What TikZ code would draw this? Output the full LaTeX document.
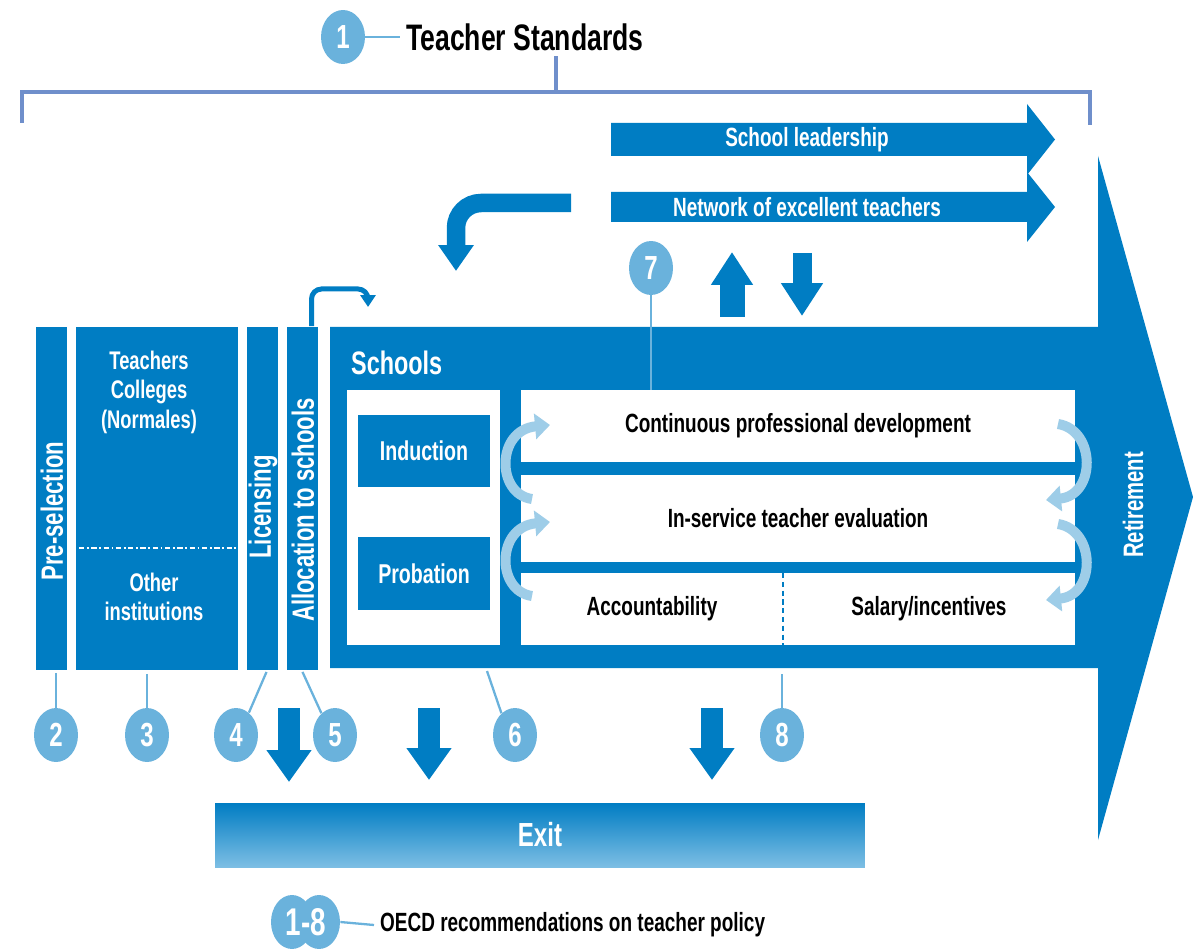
\documentclass[tikz,border=0pt]{standalone}
\usepackage{fontspec}
\setmainfont{Liberation Sans}[FakeStretch=0.72]
\usetikzlibrary{arrows.meta,shapes.geometric}

\definecolor{oecdblue}{RGB}{0,125,195}
\definecolor{badgeblue}{RGB}{106,178,220}
\definecolor{bracketblue}{RGB}{111,143,203}
\definecolor{arcblue}{RGB}{158,205,232}
\definecolor{exitlight}{RGB}{125,190,228}

\tikzset{
  badge/.style={ellipse, fill=badgeblue, text=white, minimum width=0.88cm, minimum height=1.08cm, inner sep=0pt, font=\fontsize{19}{19}\selectfont\bfseries},
  col/.style={fill=oecdblue, text=white, inner sep=0pt, outer sep=0pt, font=\fontsize{15}{18}\selectfont\bfseries},
  coltext/.style={rotate=90, text=white, font=\fontsize{17.5}{20}\selectfont\bfseries},
  row/.style={fill=white, text=black, inner sep=0pt, outer sep=0pt, font=\fontsize{15}{18}\selectfont\bfseries},
  pin/.style={draw=badgeblue, line width=1.3pt},
  fatarrow/.style={draw=oecdblue, line width=0.44cm, -{Triangle[width=0.86cm,length=0.64cm]}},
  cycle arrow/.style={draw=arcblue, line width=0.2cm, -{Triangle[width=0.5cm,length=0.3cm]}},
  arrowtext/.style={text=white, font=\fontsize{15}{18}\selectfont\bfseries}
}

\begin{document}
\begin{tikzpicture}[x=0.02cm, y=-0.02cm]
\useasboundingbox (0,0) rectangle (1193,949);

\node[badge] (b1) at (343,37) {1};
\node[anchor=west, font=\fontsize{21}{25}\selectfont\bfseries] (std) at (400,37) {Teacher Standards};
\draw[pin] (b1.east) -- (std.west);
\coordinate (stdfoot) at (556,56);
\draw[bracketblue, line width=2.8pt] (22,123) -- (22,92) -- (1090,92) -- (1090,125);
\draw[bracketblue, line width=2.8pt] (556,92) -- (stdfoot);

\fill[oecdblue] (611,123) -- (1027,123) -- (1027,104) -- (1055,139.5) -- (1027,175) -- (1027,156) -- (611,156) -- cycle;
\node[arrowtext] (lead) at (807,140) {School leadership};
\fill[oecdblue] (611,192) -- (1027,192) -- (1027,172) -- (1055,207) -- (1027,242) -- (1027,222) -- (611,222) -- cycle;
\node[arrowtext] (net) at (807,207) {Network of excellent teachers};

\draw[oecdblue, line width=0.37cm, rounded corners=0.5cm, -{Triangle[width=0.68cm,length=0.52cm]}] (571,203) -| (456,271);

\draw[fatarrow, -{Triangle[width=0.8cm,length=0.66cm]}, line width=0.5cm] (732,317) -- (732,252);
\draw[fatarrow, -{Triangle[width=0.8cm,length=0.66cm]}, line width=0.38cm] (802,253) -- (802,316);

\fill[oecdblue] (330,327) -- (1098,327) -- (1098,156) -- (1193,497) -- (1098,840) -- (1098,668) -- (330,668) -- cycle;
\node[anchor=west, text=white, font=\fontsize{18.5}{22}\selectfont\bfseries] (schools) at (345,363) {Schools};
\node[coltext, font=\fontsize{16}{19}\selectfont\bfseries] (retire) at (1133,505) {Retirement};

\node[col, minimum width=0.62cm, minimum height=6.86cm] (presel) at (51.5,498.5) {};
\node[coltext] at (52,511) {Pre-selection};
\node[col, minimum width=3.24cm, minimum height=6.86cm] (colleges) at (157,498.5) {};
\node[text=white, align=center, font=\fontsize{14.5}{16.8}\selectfont\bfseries] (normales) at (149,392) {Teachers\\Colleges\\(Normales)};
\node[text=white, align=center, font=\fontsize{14.5}{16.8}\selectfont\bfseries] (other) at (154,597) {Other\\institutions};
\draw[white, line width=1.2pt, dash pattern=on 3pt off 1.5pt on 1pt off 1.5pt] (79,548) -- (236,548);
\node[col, minimum width=0.62cm, minimum height=6.86cm] (lic) at (262.5,498.5) {};
\node[coltext] at (263,507) {Licensing};
\node[col, minimum width=0.62cm, minimum height=6.86cm] (alloc) at (302.5,498.5) {};
\node[coltext] at (303,510) {Allocation to schools};

\draw[oecdblue, line width=0.1cm, rounded corners=0.2cm, -{Triangle[width=0.3cm,length=0.24cm]}] (alloc.north) ++(9,-1) |- (368,289) -- (368,307);

\node[row, minimum width=3.06cm, minimum height=5.1cm] (entry) at (423.5,517.5) {};
\node[col, minimum width=2.64cm, minimum height=1.44cm, font=\fontsize{15.5}{18}\selectfont\bfseries] (induct) at (424,451) {Induction};
\node[col, minimum width=2.64cm, minimum height=1.46cm, font=\fontsize{15.5}{18}\selectfont\bfseries] (probat) at (424,573.5) {Probation};

\node[row, minimum width=11.08cm, minimum height=1.44cm] (cpd) at (798,426) {Continuous professional development};
\node[row, minimum width=11.08cm, minimum height=1.74cm] (eval) at (798,518.5) {In-service teacher evaluation};
\node[row, minimum width=5.24cm, minimum height=1.44cm] (account) at (652,609) {Accountability};
\node[row, minimum width=5.84cm, minimum height=1.44cm] (salary) at (929,609) {Salary/incentives};
\draw[oecdblue, line width=1pt, dash pattern=on 3pt off 2pt] (account.north east) -- (account.south east);

\draw[cycle arrow] (532,499) .. controls (496,494) and (496,430) .. (550,425);
\draw[cycle arrow] (532,596) .. controls (496,591) and (496,527) .. (550,522);
\draw[cycle arrow] (1058,424) .. controls (1096,430) and (1096,495) .. (1046,500);
\draw[cycle arrow] (1058,524) .. controls (1096,530) and (1096,595) .. (1046,600);

\node[badge] (b7) at (651,268) {7};
\draw[pin] (b7.south) -- (cpd.north -| b7.south);

\node[badge] (b2) at (56,735) {2};
\node[badge] (b3) at (147,735) {3};
\node[badge] (b4) at (236,735) {4};
\node[badge] (b5) at (335,735) {5};
\node[badge] (b6) at (515,735) {6};
\node[badge] (b8) at (782,735) {8};
\coordinate (schoolsfoot) at (487,671);
\coordinate (servicefoot) at (782,674);
\draw[pin] (presel.south -| b2.north) ++(0,3) -- (b2.north);
\draw[pin] (b3.north |- colleges.south) ++(0,4) -- (b3.north);
\draw[pin] (lic.south) ++(4,2) -- (b4.60);
\draw[pin] (alloc.south) ++(0,2) -- (b5.122);
\draw[pin] (schoolsfoot) -- (b6.122);
\draw[pin] (servicefoot) -- (b8.north);

\node[top color=oecdblue, bottom color=exitlight, text=white, minimum width=13cm, minimum height=1.28cm, inner sep=0pt, font=\fontsize{19}{22}\selectfont\bfseries] (exit) at (540,835) {Exit};
\coordinate (out1) at (289,708);
\coordinate (out2) at (429,708);
\coordinate (out3) at (712,708);
\draw[fatarrow] (out1) -- ++(0,74);
\draw[fatarrow] (out2) -- ++(0,72);
\draw[fatarrow] (out3) -- ++(0,72);

\node[ellipse, fill=badgeblue, minimum width=0.84cm, minimum height=1.08cm] (l1) at (292,922) {};
\node[ellipse, fill=badgeblue, minimum width=0.84cm, minimum height=1.08cm] (l2) at (319,922) {};
\node[text=white, font=\fontsize{22}{22}\selectfont\bfseries] (legend) at (306,922) {1-8};
\node[anchor=west, font=\fontsize{15}{18}\selectfont\bfseries] (oecd) at (374,925) {OECD recommendations on teacher policy};
\draw[pin] (l2.east) -- (oecd.west);
\end{tikzpicture}
\end{document}
